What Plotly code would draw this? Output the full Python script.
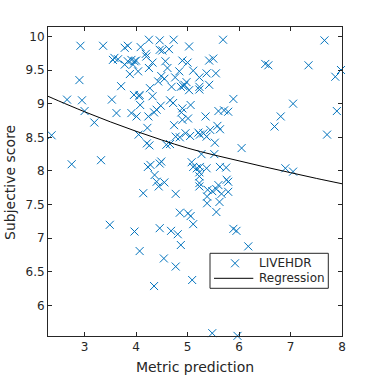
import plotly.graph_objects as go

# Scatter data (metric prediction, subjective score)
metric_pred = [5.97, 5.69, 7.66, 4.25, 4.46, 4.73, 2.92, 3.36, 3.84, 3.78, 4.09, 5.03, 4.46, 4.51, 4.64,
               4.19, 4.20, 3.58, 3.55, 3.65, 3.84, 3.91, 3.97, 4.00, 4.32, 4.57, 4.90, 5.00, 5.42, 5.50,
               3.78, 3.94, 4.25, 4.61, 4.04, 4.84, 5.11, 3.88, 5.37, 5.55, 6.51, 6.57, 7.35, 7.98, 7.87,
               4.49, 4.76, 5.23, 2.90, 4.55, 4.43, 4.94, 4.87, 4.98, 5.23, 5.23, 5.42, 3.71, 4.27, 4.69,
               5.03, 4.92, 2.66, 2.95, 3.53, 3.96, 4.07, 4.06, 4.32, 4.66, 5.89, 7.05, 4.72, 4.08, 4.48,
               5.06, 4.90, 3.00, 3.62, 3.91, 4.40, 4.35, 4.88, 5.60, 5.71, 5.79, 7.90, 4.01, 4.24, 5.01,
               5.35, 6.81, 4.90, 3.19, 4.74, 5.58, 6.69, 4.22, 5.63, 5.21, 5.31, 5.44, 2.36, 4.05, 4.77,
               4.85, 4.96, 5.05, 5.24, 5.37, 7.71, 4.21, 4.26, 4.59, 4.66, 5.53, 6.05, 5.27, 5.52, 3.32,
               2.75, 4.23, 4.28, 4.46, 4.49, 5.08, 5.11, 5.18, 5.24, 5.37, 5.23, 5.63, 5.75, 6.90, 7.05,
               4.36, 5.23, 4.40, 4.55, 4.44, 5.23, 5.23, 5.76, 5.79, 5.60, 4.14, 4.77, 5.39, 5.48, 5.56,
               5.66, 5.79, 5.38, 5.62, 5.38, 4.85, 5.01, 5.06, 5.56, 3.49, 5.11, 4.46, 4.68, 4.81, 3.97,
               5.89, 5.95, 4.07, 4.87, 6.18, 4.54, 4.77, 5.09, 4.35, 5.48, 5.97]
subjective = [10.14, 9.95, 9.94, 9.95, 9.94, 9.95, 9.86, 9.86, 9.86, 9.83, 9.84, 9.85, 9.80, 9.79, 9.81,
              9.74, 9.70, 9.68, 9.65, 9.66, 9.63, 9.65, 9.63, 9.64, 9.61, 9.63, 9.64, 9.61, 9.64, 9.67,
              9.58, 9.58, 9.53, 9.53, 9.48, 9.48, 9.49, 9.44, 9.45, 9.45, 9.59, 9.57, 9.57, 9.50, 9.40,
              9.41, 9.39, 9.39, 9.35, 9.37, 9.33, 9.28, 9.25, 9.32, 9.25, 9.21, 9.28, 9.26, 9.23, 9.25,
              9.20, 9.26, 9.06, 9.05, 9.06, 9.13, 9.13, 9.11, 9.11, 9.05, 9.07, 9.00, 9.01, 8.98, 8.97,
              8.98, 8.93, 8.89, 8.86, 8.86, 8.91, 8.87, 8.87, 8.89, 8.90, 8.88, 8.89, 8.81, 8.81, 8.78,
              8.81, 8.81, 8.76, 8.72, 8.68, 8.67, 8.66, 8.64, 8.62, 8.57, 8.56, 8.61, 8.53, 8.54, 8.51,
              8.50, 8.56, 8.52, 8.54, 8.51, 8.54, 8.41, 8.38, 8.39, 8.40, 8.42, 8.34, 8.25, 8.25, 8.16,
              8.10, 8.06, 8.09, 8.11, 8.14, 8.13, 8.06, 8.04, 8.06, 8.04, 7.98, 8.06, 8.05, 8.04, 7.99,
              7.94, 7.92, 7.84, 7.83, 7.77, 7.82, 7.77, 7.87, 7.84, 7.79, 7.67, 7.66, 7.72, 7.70, 7.73,
              7.66, 7.69, 7.62, 7.54, 7.52, 7.38, 7.37, 7.33, 7.39, 7.20, 7.21, 7.15, 7.11, 7.06, 7.10,
              7.14, 7.11, 6.81, 6.90, 6.88, 6.70, 6.58, 6.38, 6.29, 5.59, 5.55]

# Regression curve
reg_x = [2.29, 2.5, 3.0, 3.5, 4.0, 4.5, 5.0, 5.5, 6.0, 6.5, 7.0, 7.5, 8.0]
reg_y = [9.11, 9.04, 8.88, 8.73, 8.59, 8.46, 8.34, 8.24, 8.15, 8.06, 7.975, 7.89, 7.81]

x_ticks = [3, 4, 5, 6, 7, 8]
y_ticks = [6, 6.5, 7, 7.5, 8, 8.5, 9, 9.5, 10]
y_tick_text = ["6", "6.5", "7", "7.5", "8", "8.5", "9", "9.5", "10"]
legend_names = ["LIVEHDR", "Regression"]

axis_col = "#262626"
blue = "#0072BD"
font_fam = "DejaVu Sans, Arial, sans-serif"

fig = go.Figure()
fig.add_trace(go.Scatter(
    x=metric_pred, y=subjective, mode="markers", name=legend_names[0],
    marker=dict(symbol="x-thin", size=8, color=blue, line=dict(width=1, color=blue)),
    cliponaxis=False, showlegend=False,
))
fig.add_trace(go.Scatter(
    x=reg_x, y=reg_y, mode="lines", name=legend_names[1],
    line=dict(color="black", width=1, shape="spline"), showlegend=False,
))

# Manual MATLAB-style legend box (paper coordinates of plot area)
pw, ph = 294.0, 309.0
def px(v):
    return (v - 48.0) / pw
def py(v):
    return (336.0 - v) / ph

shapes = [
    dict(type="rect", xref="paper", yref="paper", x0=px(210), x1=px(328.3), y0=py(288.3), y1=py(253.3),
         line=dict(color=axis_col, width=1), fillcolor="white", layer="above"),
    # marker sample (x)
    dict(type="line", xref="paper", yref="paper", x0=px(231), x1=px(239), y0=py(259.3), y1=py(267.3),
         line=dict(color=blue, width=1), layer="above"),
    dict(type="line", xref="paper", yref="paper", x0=px(231), x1=px(239), y0=py(267.3), y1=py(259.3),
         line=dict(color=blue, width=1), layer="above"),
    # line sample
    dict(type="line", xref="paper", yref="paper", x0=px(214), x1=px(253.3), y0=py(278.3), y1=py(278.3),
         line=dict(color="black", width=1), layer="above"),
]
annotations = [
    dict(xref="paper", yref="paper", x=px(256.5), y=py(263.3), text=legend_names[0], showarrow=False,
         xanchor="left", yanchor="middle", font=dict(size=12, color=axis_col)),
    dict(xref="paper", yref="paper", x=px(256.5), y=py(278.3), text=legend_names[1], showarrow=False,
         xanchor="left", yanchor="middle", font=dict(size=12, color=axis_col)),
    dict(xref="paper", yref="paper", x=px(10), y=py(183), text="Subjective score", showarrow=False,
         textangle=-90, xanchor="center", yanchor="middle", font=dict(size=14, color=axis_col)),
]

fig.update_layout(
    width=378, height=378,
    margin=dict(l=48, r=36, t=27, b=42),
    paper_bgcolor="white", plot_bgcolor="white",
    font=dict(family=font_fam, color=axis_col, size=12),
    showlegend=False,
    shapes=shapes, annotations=annotations,
)
fig.update_xaxes(
    range=[2.29, 8.0], tickvals=x_ticks,
    showline=True, linecolor=axis_col, linewidth=1, mirror="ticks",
    ticks="inside", ticklen=4, tickcolor=axis_col,
    showgrid=False, zeroline=False, automargin=False,
    title=dict(text="Metric prediction", font=dict(size=14, color=axis_col), standoff=8),
    tickfont=dict(size=12, color=axis_col),
)
fig.update_yaxes(
    range=[5.548, 10.139], tickvals=y_ticks, ticktext=y_tick_text,
    showline=True, linecolor=axis_col, linewidth=1, mirror="ticks",
    ticks="inside", ticklen=4, tickcolor=axis_col,
    showgrid=False, zeroline=False, automargin=False,
    tickfont=dict(size=12, color=axis_col),
)

fig.write_html("out.html", config={"displayModeBar": False},
               post_script="document.body.style.margin='0px';")
